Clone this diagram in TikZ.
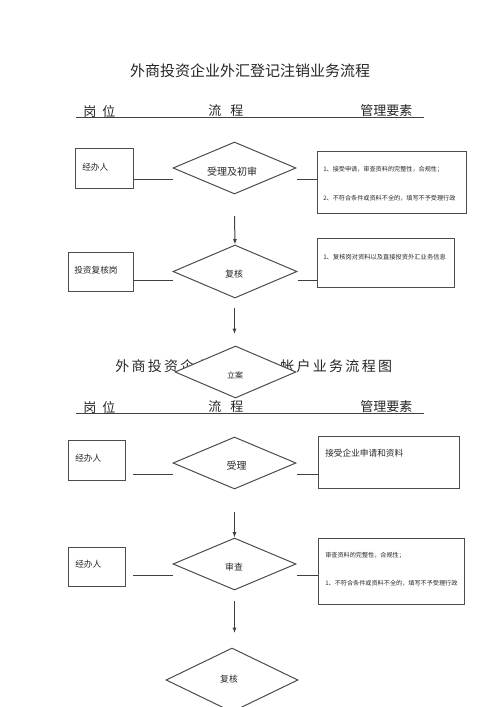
\documentclass[tikz,border=0pt]{standalone}
\usepackage{fontspec}
\newfontfamily\cjk{Noto Sans CJK SC}
\usetikzlibrary{shapes.geometric,arrows.meta}
\newdimen\PX \PX=0.75pt
\newcommand\gapT{\hspace{2.3\PX}}
\tikzset{
  ln/.style={draw=black!75, line width=0.75pt},
  arr/.style={ln, -{Latex[length=4pt,width=3pt]}},
  rbox/.style 2 args={rectangle, draw=black!70, line width=0.75pt, inner sep=0pt,
    minimum width=#1*0.75pt, minimum height=#2*0.75pt},
  dia/.style 2 args={diamond, draw=black!70, line width=0.75pt, inner sep=0pt, fill=white,
    minimum width=#1*0.75pt, minimum height=#2*0.75pt},
  txt/.style={inner sep=0pt, text=black!85, font=\cjk\fontsize{#1pt}{#1pt}\selectfont},
  lt/.style={txt=#1, anchor=west},
}
\begin{document}
\begin{tikzpicture}[x=0.75pt, y=-0.75pt]
\useasboundingbox (0,0) rectangle (500,707);
\clip (0,0) rectangle (500,707);

% ---------- section 1 ----------
\node[txt=11.25] (title1) at (250,71) {外商投资企业外汇登记注销业务流程};
\node[lt=9.75] (h1a) at (83,111) {岗\hspace{6\PX}位};
\node[lt=9.75] (h1b) at (208,111) {流\hspace{9\PX}程};
\node[lt=9.75] (h1c) at (360,111) {管理要素};
\coordinate (ul1a) at (76,117);
\coordinate (ul1b) at (424,117);
\draw[ln] (ul1a) -- (ul1b);

\node[rbox={58}{40}] (b1) at (104,168) {};
\node[lt=6.5] (b1t) at (82,167) {经办人};
\node[dia={123}{52}] (d1) at (234.5,168) {};
\node[txt=7.5] (d1t) at (232,172) {受理及初审};
\node[rbox={149}{62}] (r1) at (391.5,182) {};
\node[lt=4.6] (r1a) at (323,169) {1、接受申请，审查资料的完整性，合规性；};
\node[lt=4.6] (r1b) at (323,198) {2、不符合条件或资料不全的，填写不予受理行政};
\coordinate (ly1) at (0,179);
\draw[ln] (b1.east |- ly1) -- (d1.west |- ly1);
\draw[ln] (d1.east |- ly1) -- (r1.west |- ly1);

\coordinate (a1s) at (234.5,216);
\node[rbox={65}{39}] (b2) at (100.5,271.5) {};
\node[lt=6.5] (b2t) at (74,270) {投资复核岗};
\node[dia={124}{53}] (d2) at (235,271.5) {};
\node[txt=6.75] (d2t) at (234,274) {复核};
\node[rbox={137}{49}] (r2) at (385.5,262.5) {};
\node[lt=4.7] (r2t) at (323,257) {1、复核岗对资料以及直接投资外汇业务信息};
\draw[arr] (a1s) -- (d2.north);
\coordinate (ly2) at (0,280.5);
\draw[ln] (b2.east |- ly2) -- (d2.west |- ly2);
\draw[ln] (d2.east |- ly2) -- (r2.west |- ly2);

\coordinate (a2s) at (234.5,308);
\coordinate (a2e) at (234.5,334);
\draw[arr] (a2s) -- (a2e);

% ---------- title of section 2 (partly hidden) ----------
\node[lt=10.5] (t2a) at (115,366) {外\gapT 商\gapT 投\gapT 资\gapT 企\gapT 业};
\node[lt=10.5] (t2b) at (280,366) {帐\gapT 户\gapT 业\gapT 务\gapT 流\gapT 程\gapT 图};
\node[dia={121}{52}] (d3) at (235.5,372) {};
\node[txt=6] (d3t) at (235,375) {立案};

% ---------- section 2 ----------
\node[lt=9.75] (h2a) at (83,407) {岗\hspace{6\PX}位};
\node[lt=9.75] (h2b) at (208,407) {流\hspace{9\PX}程};
\node[lt=9.75] (h2c) at (360,407) {管理要素};
\coordinate (ul2a) at (76,413);
\coordinate (ul2b) at (424,413);
\draw[ln] (ul2a) -- (ul2b);

\node[rbox={57}{40}] (b3) at (96.5,460) {};
\node[lt=6.5] (b3t) at (75,458) {经办人};
\node[dia={123}{52}] (d4) at (234.5,463) {};
\node[txt=7.5] (d4t) at (236.5,466) {受理};
\node[rbox={141}{52}] (r3) at (388.5,462) {};
\node[lt=6.5] (r3t) at (325,453) {接受企业申请和资料};
\coordinate (ly3a) at (133,474);
\draw[ln] (ly3a) -- (d4.west |- ly3a);
\draw[ln] (d4.east |- ly3a) -- (r3.west |- ly3a);

\coordinate (a3s) at (234.5,512);
\node[dia={123}{52}] (d5) at (234.5,564) {};
\node[txt=6.6] (d5t) at (234,567) {审查};
\draw[arr] (a3s) -- (d5.north);
\node[rbox={57}{39}] (b4) at (96.5,566.5) {};
\node[lt=6.5] (b4t) at (75,564) {经办人};
\node[rbox={146}{66}] (r4) at (391,571) {};
\node[lt=4.6] (r4a) at (325,555) {审查资料的完整性，合规性；};
\node[lt=4.6] (r4b) at (325,583) {1、不符合条件或资料不全的，填写不予受理行政};
\coordinate (ly4a) at (133,575);
\draw[ln] (ly4a) -- (d5.west |- ly4a);
\draw[ln] (d5.east |- ly4a) -- (r4.west |- ly4a);

\coordinate (a4s) at (234.5,601);
\coordinate (a4e) at (234.5,633);
\draw[arr] (a4s) -- (a4e);
\node[dia={132}{64}] (d6) at (232,680) {};
\node[txt=6.6] (d6t) at (229,679) {复核};
\end{tikzpicture}
\end{document}
